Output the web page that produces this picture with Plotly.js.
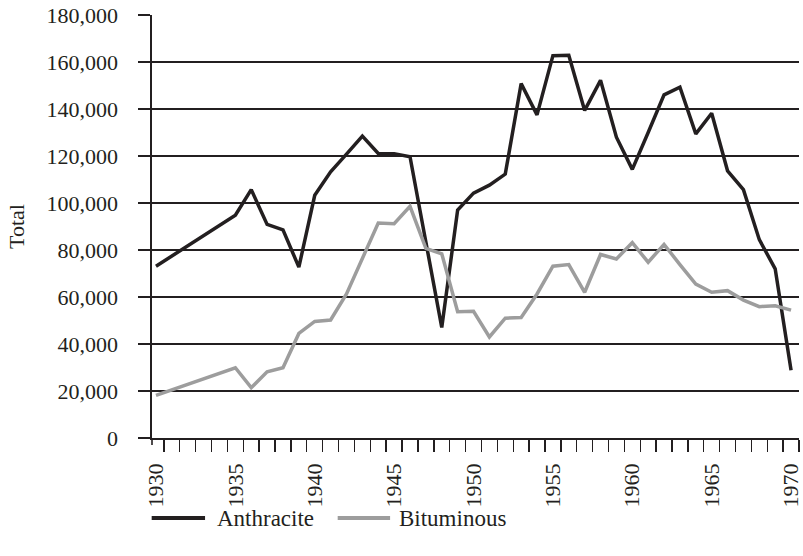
<!DOCTYPE html>
<html>
<head>
<meta charset="utf-8">
<script src="https://cdn.plot.ly/plotly-3.0.1.min.js"></script>
<style>
  html, body { margin: 0; padding: 0; background: #fff; }
  #chart { width: 803px; height: 556px; }
</style>
</head>
<body>
<div id="chart"></div>
<script>
// ---- data ----
const years = [1930, 1935, 1936, 1937, 1938, 1939, 1940, 1941, 1942, 1943, 1944, 1945, 1946, 1947, 1948, 1949,
  1950, 1951, 1952, 1953, 1954, 1955, 1956, 1957, 1958, 1959, 1960, 1961, 1962, 1963, 1964, 1965, 1966, 1967,
  1968, 1969, 1970];
const anthracite = [73100, 94800, 105700, 90900, 88600, 72700, 103300, 113300, 120800, 128500, 121100, 121000,
  119700, 84100, 47000, 97000, 104200, 107600, 112300, 150800, 137500, 162700, 162900, 139400, 152200, 128000,
  114300, 130000, 146000, 149300, 129400, 138200, 113700, 105700, 84400, 72000, 28800];
const bituminous = [18100, 29900, 21400, 28200, 29900, 44500, 49600, 50200, 61300, 76500, 91500, 91200,
  98600, 80700, 78400, 53700, 53900, 43000, 51000, 51300, 61300, 73100, 73800, 62000, 78100, 76200,
  83100, 74800, 82400, 73800, 65500, 62000, 62700, 58700, 55900, 56300, 54400];
const seriesNames = ["Anthracite", "Bituminous"];
const yTitle = "Total";
const xTickYears = [1930, 1935, 1940, 1945, 1950, 1955, 1960, 1965, 1970];

// ---- style ----
const ink = "#231f20";
const grey = "#9d9d9d";
const font = "Liberation Serif";

const traces = [
  { x: years, y: anthracite, name: seriesNames[0], type: "scatter", mode: "lines",
    line: { color: ink, width: 3.5 }, showlegend: false, hoverinfo: "skip" },
  { x: years, y: bituminous, name: seriesNames[1], type: "scatter", mode: "lines",
    line: { color: grey, width: 3.5 }, showlegend: false, hoverinfo: "skip" }
];

const plotH = 423;
const legY = -80 / plotH;
const layout = {
  width: 803, height: 556,
  margin: { l: 152, r: 4, t: 15, b: 556 - 15 - plotH },
  paper_bgcolor: "#fff", plot_bgcolor: "#fff",
  font: { family: font, size: 22, color: ink },
  showlegend: false,
  xaxis: {
    range: [1929.75, 1970.5],
    tickmode: "array", tickvals: xTickYears, ticktext: xTickYears.map(String),
    tickangle: -90,
    ticks: "outside", ticklen: 12, tickcolor: "rgba(0,0,0,0)", tickwidth: 1.4,
    ticklabelstandoff: 3,
    ticklabeloverflow: "allow",
    minor: { tickmode: "linear", tick0: 1929.5, dtick: 1, ticks: "outside", ticklen: 12,
      tickcolor: ink, tickwidth: 1.4, showgrid: false },
    showline: true, linecolor: ink, linewidth: 1.6,
    showgrid: false, zeroline: false,
    tickfont: { family: font, size: 22, color: ink }
  },
  yaxis: {
    range: [0, 180000], tickmode: "linear", tick0: 0, dtick: 20000,
    tickformat: ",d",
    ticks: "outside", ticklen: 12, tickcolor: ink, tickwidth: 1.4,
    ticklabelstandoff: 16,
    showline: true, linecolor: ink, linewidth: 1.6,
    showgrid: true, gridcolor: ink, gridwidth: 1.5,
    zeroline: false,
    tickfont: { family: font, size: 22, color: ink },
    title: { text: yTitle, font: { family: font, size: 22, color: ink }, standoff: 16 }
  },
  shapes: [
    { type: "line", xref: "paper", yref: "paper", x0: 0, x1: 0, y0: 0, y1: -7 / plotH,
      line: { color: ink, width: 1.6 } },
    { type: "line", xref: "paper", yref: "paper", x0: -0.0005, x1: 0.082, y0: legY, y1: legY,
      line: { color: ink, width: 4 } },
    { type: "line", xref: "paper", yref: "paper", x0: 0.287, x1: 0.368, y0: legY, y1: legY,
      line: { color: grey, width: 4 } }
  ],
  annotations: [
    { xref: "paper", yref: "paper", x: 0.098, y: legY, xanchor: "left", yanchor: "middle",
      text: seriesNames[0], showarrow: false, font: { family: font, size: 23, color: ink } },
    { xref: "paper", yref: "paper", x: 0.379, y: legY, xanchor: "left", yanchor: "middle",
      text: seriesNames[1], showarrow: false, font: { family: font, size: 23, color: ink } }
  ]
};

Plotly.newPlot("chart", traces, layout, { staticPlot: true, displayModeBar: false });
</script>
</body>
</html>
